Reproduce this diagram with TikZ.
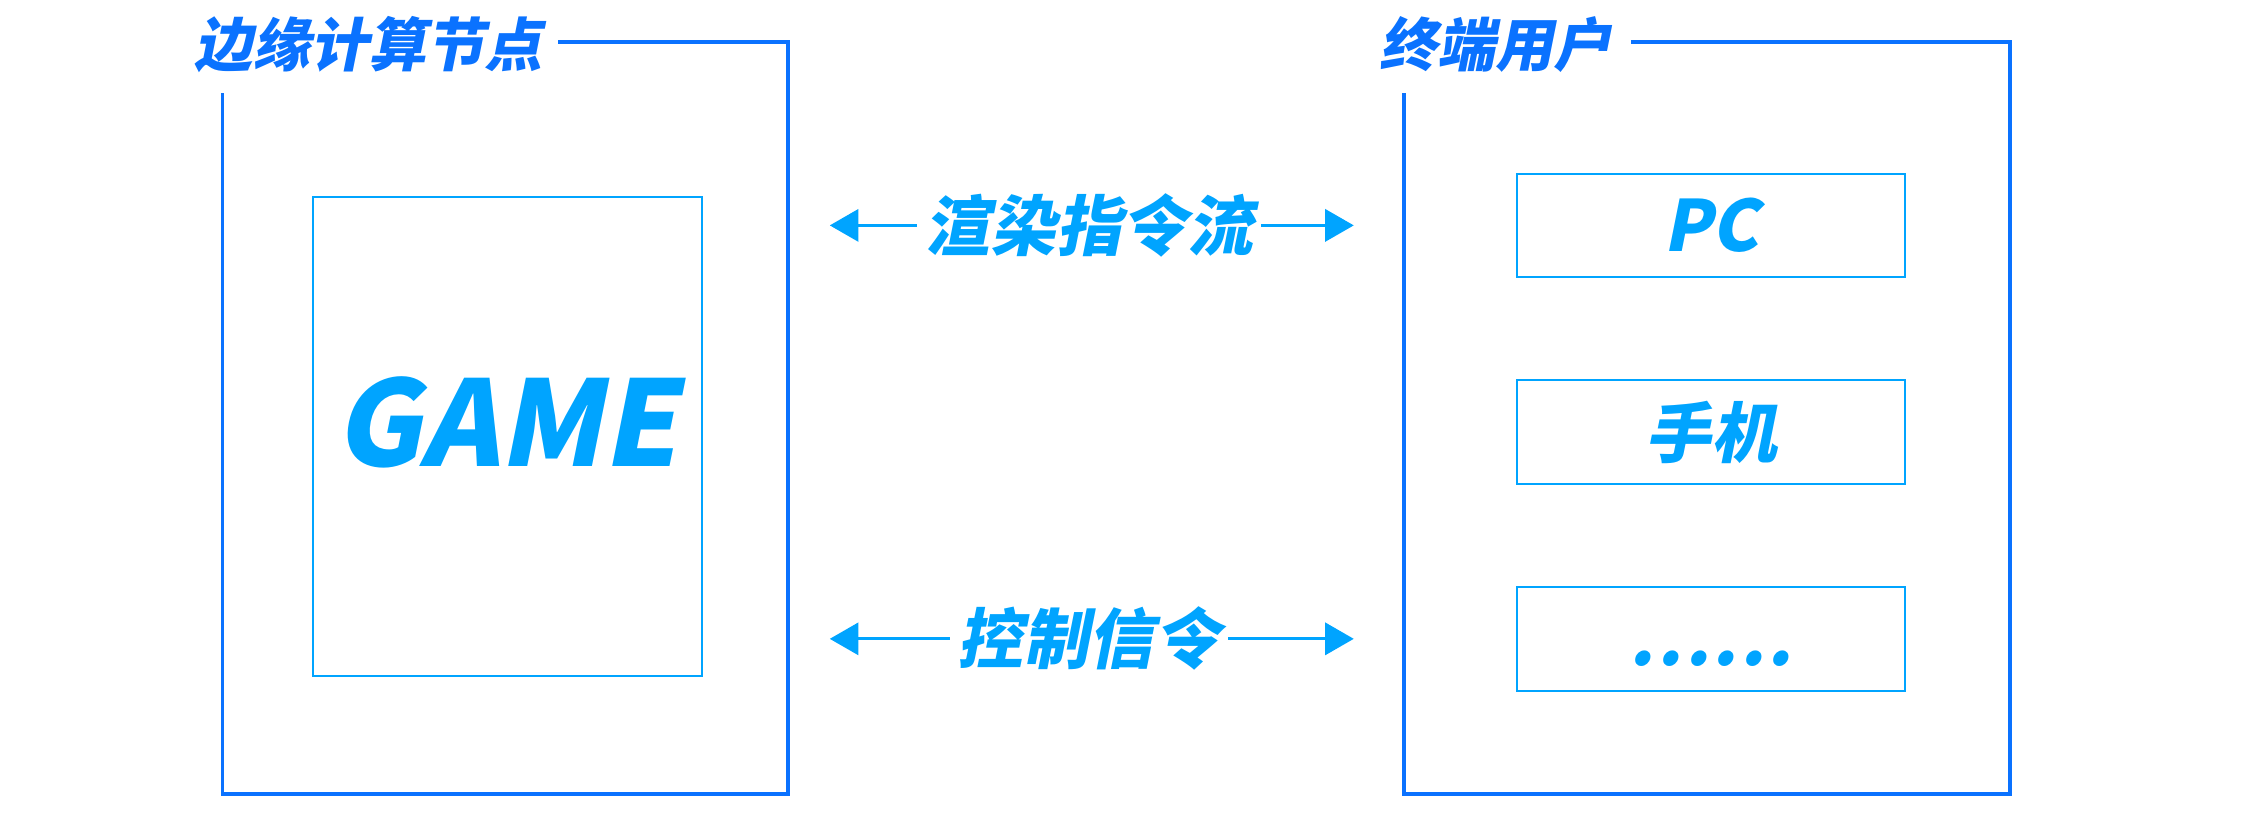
\documentclass[tikz,border=0pt]{standalone}
\usepackage{fontspec}
\setmainfont{Noto Sans CJK SC}[FakeSlant=0.2]
\usetikzlibrary{arrows.meta}

\definecolor{frameblue}{HTML}{0A72FF}
\definecolor{itemblue}{HTML}{00A4FF}

\begin{document}
\begin{tikzpicture}[
  frame/.style={draw=frameblue, line width=1.5pt},
  title/.style={text=frameblue, inner sep=0pt, font=\fontsize{23}{26}\selectfont\bfseries},
  box/.style={draw=itemblue, line width=0.8pt, text=itemblue, font=\bfseries},
  flow/.style={draw=itemblue, line width=1.1pt, -{Triangle[length=0.4cm,width=0.45cm]}},
  flowlabel/.style={text=itemblue, inner sep=3pt, font=\fontsize{26}{30}\selectfont\bfseries}
]
\def\W{5.40}
\def\H{1.44}
\useasboundingbox (0,0) rectangle (31.36,11.36);

% edge node
\node[title] (edgetitle) at (5.13,10.74) {边缘计算节点};
\draw[frame] (7.78,10.78) -| (10.98,0.30) -| (3.10,10.06);
\node[box, minimum width=5.42cm, minimum height=6.68cm] (gamebox) at (7.07,5.28) {};
\node[text=itemblue, font=\fontsize{47}{50}\selectfont\bfseries] (game) at (7.05,5.48) {GAME};

% end users
\node[title] (usertitle) at (20.84,10.74) {终端用户};
\draw[frame] (22.72,10.78) -| (28.00,0.30) -| (19.56,10.06);
\node[box, minimum width=\W cm, minimum height=\H cm, font=\fontsize{28}{30}\selectfont\bfseries] (pc) at (23.84,8.22) {PC};
\node[box, minimum width=\W cm, minimum height=\H cm, font=\fontsize{26}{30}\selectfont\bfseries] (phone) at (23.84,5.34) {手机};
\node[box, minimum width=\W cm, minimum height=\H cm, text height=0.75cm, font=\fontsize{28}{30}\selectfont\bfseries\addfontfeature{LetterSpace=4}] (more) at (23.84,2.46) {......};

% flows
\coordinate (renderL) at (11.56,8.22);
\coordinate (renderR) at (18.86,8.22);
\coordinate (ctrlL) at (11.56,2.46);
\coordinate (ctrlR) at (18.86,2.46);
\node[flowlabel] (render) at (15.17,8.22) {渲染指令流};
\node[flowlabel] (ctrl) at (15.17,2.46) {控制信令};
\draw[flow] (render) -- (renderL);
\draw[flow] (render) -- (renderR);
\draw[flow] (ctrl) -- (ctrlL);
\draw[flow] (ctrl) -- (ctrlR);
\end{tikzpicture}
\end{document}
